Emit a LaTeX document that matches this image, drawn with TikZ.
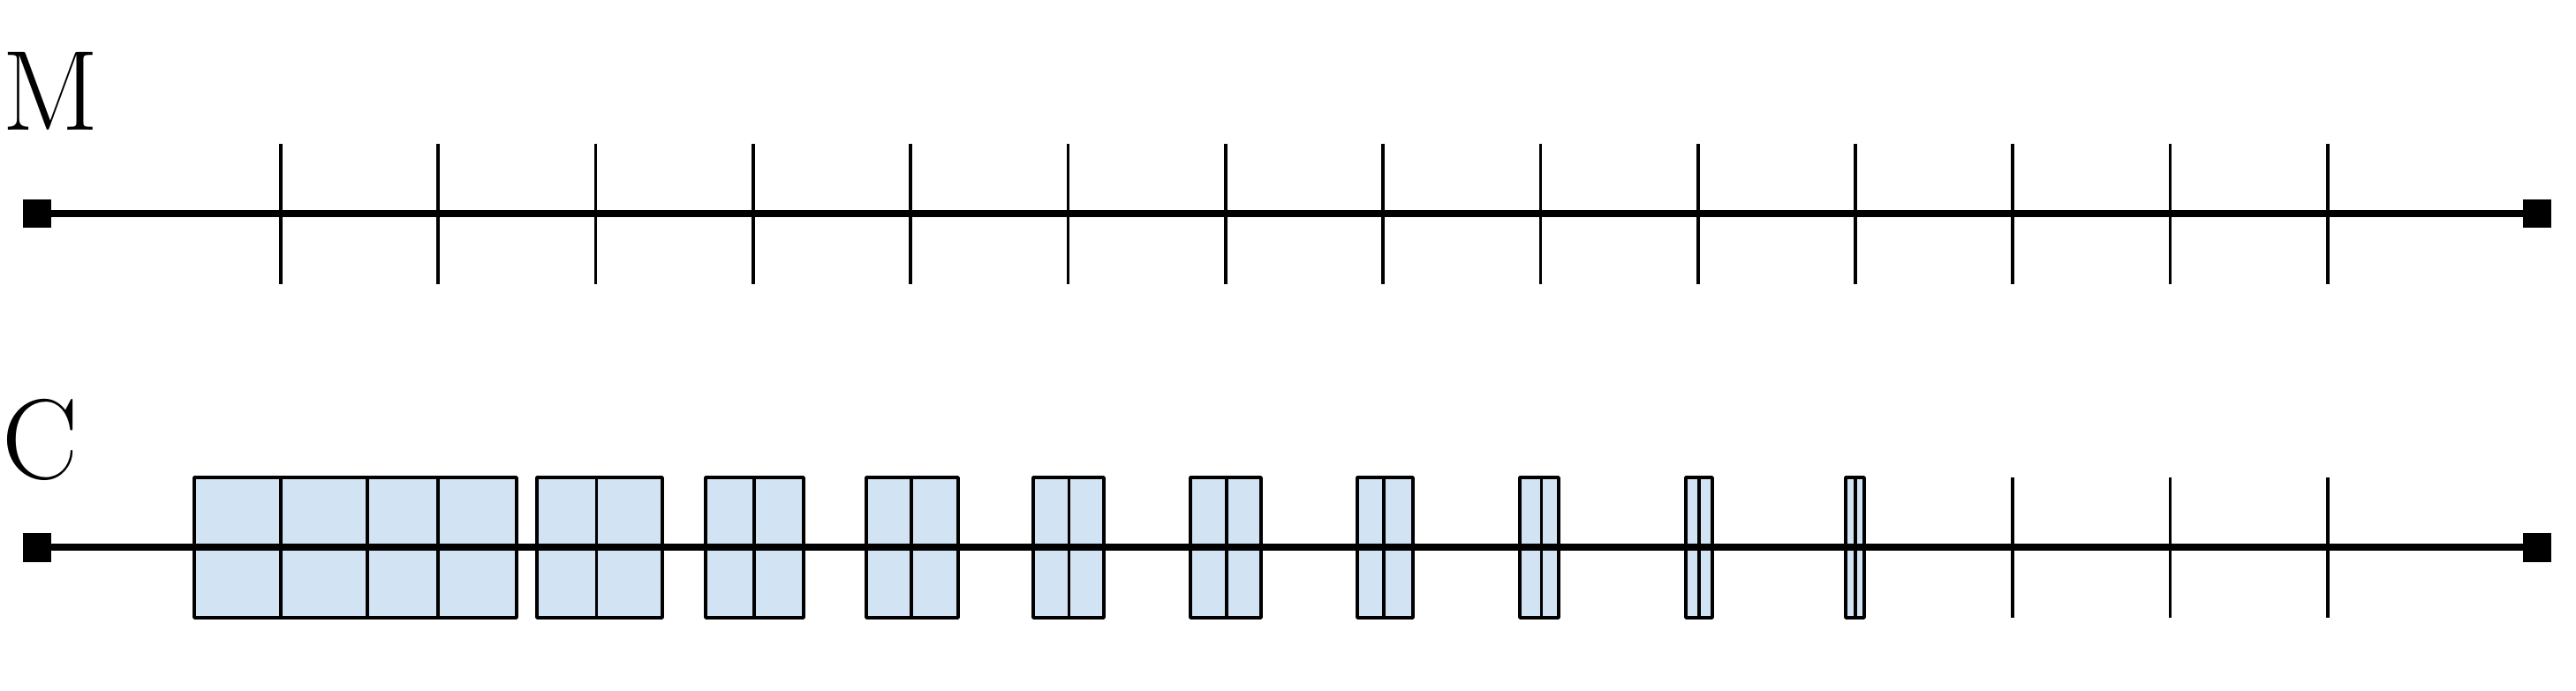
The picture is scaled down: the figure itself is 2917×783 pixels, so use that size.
\documentclass[tikz,border=0pt]{standalone}
\definecolor{cellblue}{RGB}{210,228,243}
\tikzset{
  axisline/.style={line width=0.08cm, black},
  tickmark/.style={line width=0.037cm, black},
  cellbox/.style={draw=black, line width=0.037cm, fill=cellblue, line join=round},
  endsq/.style={rectangle, fill=black, draw=none, minimum size=0.32cm, inner sep=0pt},
  lbl/.style={anchor=base west, inner sep=0pt, font=\fontsize{36.7}{40}\selectfont}
}
\begin{document}
\begin{tikzpicture}[x=0.01cm, y=-0.01cm]
\useasboundingbox (0,0) rectangle (2917,783);
% labels
\node[lbl] (labM) at (2,148) {M};
\node[lbl] (labC) at (2,543) {C};
% ---------- top row (M) ----------
\node[endsq] (mL) at (42,242) {};
\node[endsq] (mR) at (2873,242) {};
\draw[axisline] (mL.center) -- (mR.center);
\foreach \i in {0,...,13} {
  \draw[tickmark] ({318+\i*178.3},163) -- ({318+\i*178.3},322);
}
% ---------- bottom row (C) ----------
% first wide box
\draw[cellbox] (220,541) rectangle (585,700);
\foreach \d in {318,416,496} {
  \draw[tickmark] (\d,541) -- (\d,700);
}
% pairs
\foreach \l/\d/\r in {608/675.6/750, 799/853.9/910, 981/1032.2/1085, 1170/1210.5/1250,
                      1348/1388.8/1428, 1537/1567.1/1600, 1721/1745.4/1765,
                      1909/1923.7/1939, 2090/2101/2111} {
  \draw[cellbox] (\l,541) rectangle (\r,700);
  \draw[tickmark] (\d,541) -- (\d,700);
}
% plain ticks at the right end
\foreach \i in {11,12,13} {
  \draw[tickmark] ({318+\i*178.3},541) -- ({318+\i*178.3},700);
}
\node[endsq] (cL) at (42,620.5) {};
\node[endsq] (cR) at (2873,620.5) {};
\draw[axisline] (cL.center) -- (cR.center);
\end{tikzpicture}
\end{document}
